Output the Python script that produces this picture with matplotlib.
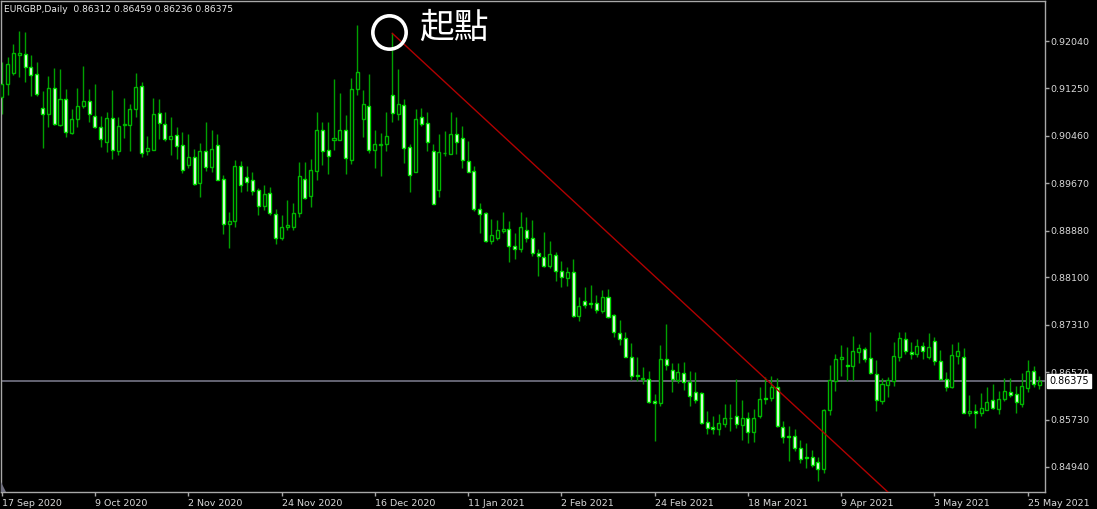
import numpy as np
import matplotlib
matplotlib.use('Agg')
import matplotlib.pyplot as plt

# EURGBP daily candles (bar 0 = 17 Sep 2020)
opens = [0.91112, 0.91318, 0.91512, 0.91801, 0.91818, 0.91612, 0.91484, 0.90929, 0.90823, 0.91251,
         0.90634, 0.91068, 0.90501, 0.90734, 0.90962, 0.91046, 0.90784, 0.90612, 0.90351, 0.90762,
         0.90212, 0.90640, 0.90640, 0.90901, 0.91284, 0.90201, 0.90229, 0.90834, 0.90651, 0.90401,
         0.90473, 0.90301, 0.89979, 0.90112, 0.89668, 0.90207, 0.89946, 0.90301, 0.89734, 0.88996,
         0.89046, 0.89962, 0.89779, 0.89718, 0.89551, 0.89296, 0.89501, 0.89151, 0.88751, 0.88934,
         0.88946, 0.89179, 0.89734, 0.89462, 0.89873, 0.90557, 0.90218, 0.90384, 0.90396, 0.90557,
         0.90051, 0.91234, 0.90746, 0.90957, 0.90229, 0.90312, 0.90318, 0.91134, 0.90829, 0.90968,
         0.90279, 0.89862, 0.90779, 0.90668, 0.90207, 0.89557, 0.90168, 0.90162, 0.90484, 0.90429,
         0.90040, 0.89873, 0.89240, 0.89168, 0.88712, 0.88762, 0.88879, 0.88912, 0.88623, 0.88568,
         0.88890, 0.88762, 0.88501, 0.88446, 0.88290, 0.88468, 0.88207, 0.88085, 0.88190, 0.87457,
         0.87712, 0.87668, 0.87668, 0.87546, 0.87768, 0.87473, 0.87179, 0.87084, 0.86779, 0.86468,
         0.86401, 0.86412, 0.86040, 0.86001, 0.86735, 0.86557, 0.86390, 0.86512, 0.86351, 0.86184,
         0.86168, 0.85690, 0.85607, 0.85573, 0.85657, 0.85751, 0.85784, 0.85646, 0.85751, 0.85518,
         0.85790, 0.86084, 0.86096, 0.86268, 0.85612, 0.85457, 0.85457, 0.85262, 0.85107, 0.85101,
         0.85029, 0.84901, 0.85890, 0.86379, 0.86734, 0.86640, 0.86629, 0.86862, 0.86912, 0.86751,
         0.86490, 0.86046, 0.86312, 0.86379, 0.86779, 0.87068, 0.86862, 0.86823, 0.86962, 0.86779,
         0.87046, 0.86707, 0.86401, 0.86268, 0.86796, 0.86779, 0.85840, 0.85873, 0.85846, 0.85896,
         0.86057, 0.85912, 0.86073, 0.86190, 0.86151, 0.85984, 0.86262, 0.86540, 0.86312]
highs = [0.91696, 0.91768, 0.91984, 0.92207, 0.92184, 0.91807, 0.91690, 0.91207, 0.91457, 0.91584,
         0.91568, 0.91240, 0.90912, 0.91262, 0.91623, 0.91234, 0.91323, 0.90790, 0.90851, 0.91218,
         0.90779, 0.91096, 0.90984, 0.91501, 0.91362, 0.90462, 0.91084, 0.91073, 0.90857, 0.90768,
         0.90601, 0.90523, 0.90490, 0.90240, 0.90340, 0.90696, 0.90551, 0.90490, 0.89807, 0.89184,
         0.90057, 0.90040, 0.89957, 0.89851, 0.89584, 0.89634, 0.89601, 0.89234, 0.89140, 0.89384,
         0.89346, 0.90018, 0.90018, 0.90073, 0.90851, 0.90684, 0.90684, 0.91401, 0.91173, 0.90807,
         0.91429, 0.92307, 0.91223, 0.91484, 0.90557, 0.90501, 0.90851, 0.92168, 0.91568, 0.91079,
         0.90323, 0.90901, 0.90918, 0.90862, 0.90318, 0.90484, 0.90546, 0.90851, 0.90779, 0.90623,
         0.90373, 0.89957, 0.89346, 0.89196, 0.89073, 0.89057, 0.89190, 0.89034, 0.88834, 0.89190,
         0.89112, 0.89057, 0.88568, 0.88851, 0.88712, 0.88529, 0.88373, 0.88268, 0.88401, 0.87779,
         0.87935, 0.87968, 0.87801, 0.87890, 0.87912, 0.87484, 0.87390, 0.87196, 0.87001, 0.86779,
         0.86612, 0.86540, 0.86157, 0.86979, 0.87318, 0.86679, 0.86668, 0.86684, 0.86540, 0.86518,
         0.86196, 0.85873, 0.85796, 0.85823, 0.85990, 0.85990, 0.86407, 0.86057, 0.85851, 0.85907,
         0.86279, 0.86446, 0.86457, 0.86418, 0.85712, 0.85623, 0.85568, 0.85390, 0.85334, 0.85223,
         0.85101, 0.85907, 0.86640, 0.86818, 0.86973, 0.86946, 0.87123, 0.86984, 0.86946, 0.87190,
         0.86723, 0.86418, 0.86446, 0.87023, 0.87184, 0.87196, 0.87018, 0.87073, 0.87018, 0.87173,
         0.87101, 0.86890, 0.86518, 0.86990, 0.87018, 0.86918, 0.86140, 0.85984, 0.86168, 0.86268,
         0.86323, 0.86207, 0.86429, 0.86429, 0.86296, 0.86501, 0.86723, 0.86623, 0.86459]
lows = [0.90818, 0.91140, 0.91473, 0.91446, 0.91362, 0.91123, 0.91123, 0.90251, 0.90612, 0.90634,
        0.90623, 0.90434, 0.90490, 0.90601, 0.90918, 0.90696, 0.90590, 0.90279, 0.90190, 0.90068,
        0.90146, 0.90429, 0.90212, 0.90779, 0.90101, 0.90134, 0.90218, 0.90412, 0.90368, 0.90140,
        0.90068, 0.89834, 0.89929, 0.89640, 0.89434, 0.89879, 0.89862, 0.89718, 0.88829, 0.88596,
        0.88946, 0.89518, 0.89546, 0.89473, 0.89140, 0.89223, 0.89146, 0.88657, 0.88723, 0.88890,
        0.88890, 0.89112, 0.89407, 0.89273, 0.89723, 0.89979, 0.89823, 0.90229, 0.90384, 0.89823,
        0.89984, 0.91140, 0.90446, 0.90168, 0.89918, 0.89796, 0.90212, 0.90684, 0.90723, 0.90012,
        0.89518, 0.89851, 0.90623, 0.90212, 0.89318, 0.89440, 0.90129, 0.90151, 0.90151, 0.89918,
        0.89851, 0.89207, 0.88834, 0.88696, 0.88651, 0.88723, 0.88834, 0.88350, 0.88400, 0.88529,
        0.88690, 0.88462, 0.88123, 0.88268, 0.88251, 0.88040, 0.87946, 0.87962, 0.87446, 0.87379,
        0.87584, 0.87584, 0.87501, 0.87512, 0.87429, 0.87112, 0.86968, 0.86768, 0.86390, 0.86379,
        0.86323, 0.86001, 0.85379, 0.85962, 0.86557, 0.86196, 0.86334, 0.86223, 0.85957, 0.86001,
        0.85657, 0.85490, 0.85484, 0.85473, 0.85612, 0.85540, 0.85584, 0.85390, 0.85334, 0.85351,
        0.85751, 0.85984, 0.86046, 0.85612, 0.85346, 0.85046, 0.85212, 0.85012, 0.84918, 0.84946,
        0.84712, 0.84846, 0.85807, 0.86207, 0.86457, 0.86379, 0.86390, 0.86679, 0.86696, 0.86490,
        0.85873, 0.85984, 0.86112, 0.86290, 0.86712, 0.86818, 0.86734, 0.86779, 0.86734, 0.86746,
        0.86640, 0.86396, 0.86212, 0.86257, 0.86651, 0.85835, 0.85796, 0.85596, 0.85790, 0.85890,
        0.85907, 0.85823, 0.86046, 0.86101, 0.85835, 0.85946, 0.86184, 0.86268, 0.86236]
closes = [0.91318, 0.91651, 0.91846, 0.91834, 0.91612, 0.91468, 0.91162, 0.90823, 0.91251, 0.90651,
          0.91068, 0.90518, 0.90734, 0.90957, 0.91034, 0.90823, 0.90601, 0.90401, 0.90762, 0.90223,
          0.90618, 0.90651, 0.90901, 0.91268, 0.90179, 0.90257, 0.90823, 0.90668, 0.90412, 0.90462,
          0.90284, 0.89890, 0.90101, 0.89651, 0.90201, 0.89946, 0.90234, 0.89729, 0.88990, 0.89040,
          0.89957, 0.89634, 0.89696, 0.89546, 0.89296, 0.89490, 0.89168, 0.88751, 0.88940, 0.88968,
          0.89173, 0.89796, 0.89418, 0.89884, 0.90557, 0.90212, 0.90118, 0.90429, 0.90551, 0.90084,
          0.91234, 0.91518, 0.90984, 0.90218, 0.90323, 0.90323, 0.90451, 0.90834, 0.90984, 0.90251,
          0.89801, 0.90734, 0.90662, 0.90362, 0.89329, 0.90184, 0.90179, 0.90484, 0.90362, 0.90057,
          0.89862, 0.89240, 0.89157, 0.88712, 0.88807, 0.88890, 0.88901, 0.88623, 0.88579, 0.88934,
          0.88751, 0.88501, 0.88457, 0.88290, 0.88484, 0.88212, 0.88112, 0.88190, 0.87457, 0.87623,
          0.87646, 0.87657, 0.87557, 0.87768, 0.87446, 0.87190, 0.87073, 0.86779, 0.86462, 0.86451,
          0.86429, 0.86029, 0.86001, 0.86735, 0.86640, 0.86407, 0.86529, 0.86362, 0.86123, 0.86057,
          0.85668, 0.85584, 0.85579, 0.85668, 0.85751, 0.85762, 0.85651, 0.85757, 0.85518, 0.85762,
          0.86068, 0.86073, 0.86268, 0.85623, 0.85446, 0.85446, 0.85251, 0.85073, 0.85096, 0.84973,
          0.84907, 0.85890, 0.86390, 0.86734, 0.86768, 0.86629, 0.86873, 0.86918, 0.86734, 0.86501,
          0.86057, 0.86323, 0.86390, 0.86790, 0.87084, 0.86873, 0.86823, 0.86957, 0.86873, 0.86934,
          0.86701, 0.86407, 0.86268, 0.86801, 0.86879, 0.85846, 0.85873, 0.85846, 0.85918, 0.86029,
          0.85918, 0.86073, 0.86201, 0.86140, 0.86029, 0.86290, 0.86540, 0.86318, 0.86375]

date_labels = ['17 Sep 2020', '9 Oct 2020', '2 Nov 2020', '24 Nov 2020', '16 Dec 2020', '11 Jan 2021',
               '2 Feb 2021', '24 Feb 2021', '18 Mar 2021', '9 Apr 2021', '3 May 2021', '25 May 2021']
price_ticks = [0.92040, 0.91250, 0.90460, 0.89670, 0.88880, 0.88100, 0.87310, 0.86520, 0.85730, 0.84940]
last_price = 0.86375
header = 'EURGBP,Daily  0.86312 0.86459 0.86236 0.86375'

# trend line drawn from the Dec high (bar, price)
trend_x = [67, 152]
trend_y = [0.92168, 0.84523]
start_mark = (66.4, 0.92190)
start_text = '起點'

plt.rcParams['font.family'] = ['DejaVu Sans', 'Noto Sans CJK TC']

o = np.array(opens)
h = np.array(highs)
l = np.array(lows)
c = np.array(closes)
x = np.arange(len(o))
bull = c >= o
bottom = np.minimum(o, c)
height = np.maximum(np.abs(c - o), 0.00002)

W, H = 1097, 509
fig = plt.figure(figsize=(W / 100, H / 100), dpi=100, facecolor='black')
ax = fig.add_axes([1 / W, 17 / H, 1044 / W, 491 / H])
ax.set_facecolor('black')
ax.set_xlim(-0.12, 178.96)
ax.set_ylim(0.84523, 0.92707)

# current price line
ax.axhline(last_price, color='#6c6c7c', lw=1.3, zorder=1)

# candles
ax.vlines(x, l, h, color='#00a000', lw=1, zorder=2)
ax.bar(x[bull], height[bull], bottom=bottom[bull], width=0.52,
       facecolor='black', edgecolor='#00b800', lw=1, zorder=3)
ax.bar(x[~bull], height[~bull], bottom=bottom[~bull], width=0.52,
       facecolor='white', edgecolor='#00e000', lw=1, zorder=3)

# trendline + annotation
ax.plot(trend_x, trend_y, color='#b00000', lw=1, zorder=4)
ax.plot(*start_mark, marker='o', ms=24, mfc='none', mec='white', mew=2.6,
        zorder=5, clip_on=False)
ax.text(71.6, 0.92257, start_text, color='white', fontsize=25, va='center', ha='left',
        family=['Noto Sans CJK TC'], zorder=5)

for s in ax.spines.values():
    s.set_color('#a8a8a8')
    s.set_linewidth(1)

# axes ticks
ax.yaxis.tick_right()
ax.set_yticks(price_ticks)
ax.set_yticklabels(['%.5f' % p for p in price_ticks])
ax.set_xticks(np.arange(len(date_labels)) * 16)
ax.set_xticklabels(date_labels)
for t in ax.get_xticklabels():
    t.set_ha('left')
ax.tick_params(axis='both', colors='#a8a8a8', labelcolor='#d8d8d8', labelsize=6.8,
               length=3, width=1, direction='out')
ax.tick_params(axis='y', pad=1)
ax.tick_params(axis='x', pad=2)

# last price box
ax.annotate('%.5f' % last_price, xy=(1.0, last_price), xycoords=('axes fraction', 'data'),
            xytext=(4, 0), textcoords='offset pixels', va='center', ha='left',
            fontsize=6.9, color='black', annotation_clip=False,
            bbox=dict(boxstyle='square,pad=0.2', facecolor='white', edgecolor='white'))

fig.text(4 / W, 1 - 10 / H, header, color='#e8e8e8', fontsize=6.6, va='center', ha='left')

# little scroll marker bottom-left
fig.patches.append(plt.Polygon([[1 / W, 17 / H], [6 / W, 17 / H], [1 / W, 27 / H]],
                               closed=True, transform=fig.transFigure,
                               facecolor='#707080', edgecolor='none'))

fig.savefig('out.png', dpi=100, facecolor='black')
